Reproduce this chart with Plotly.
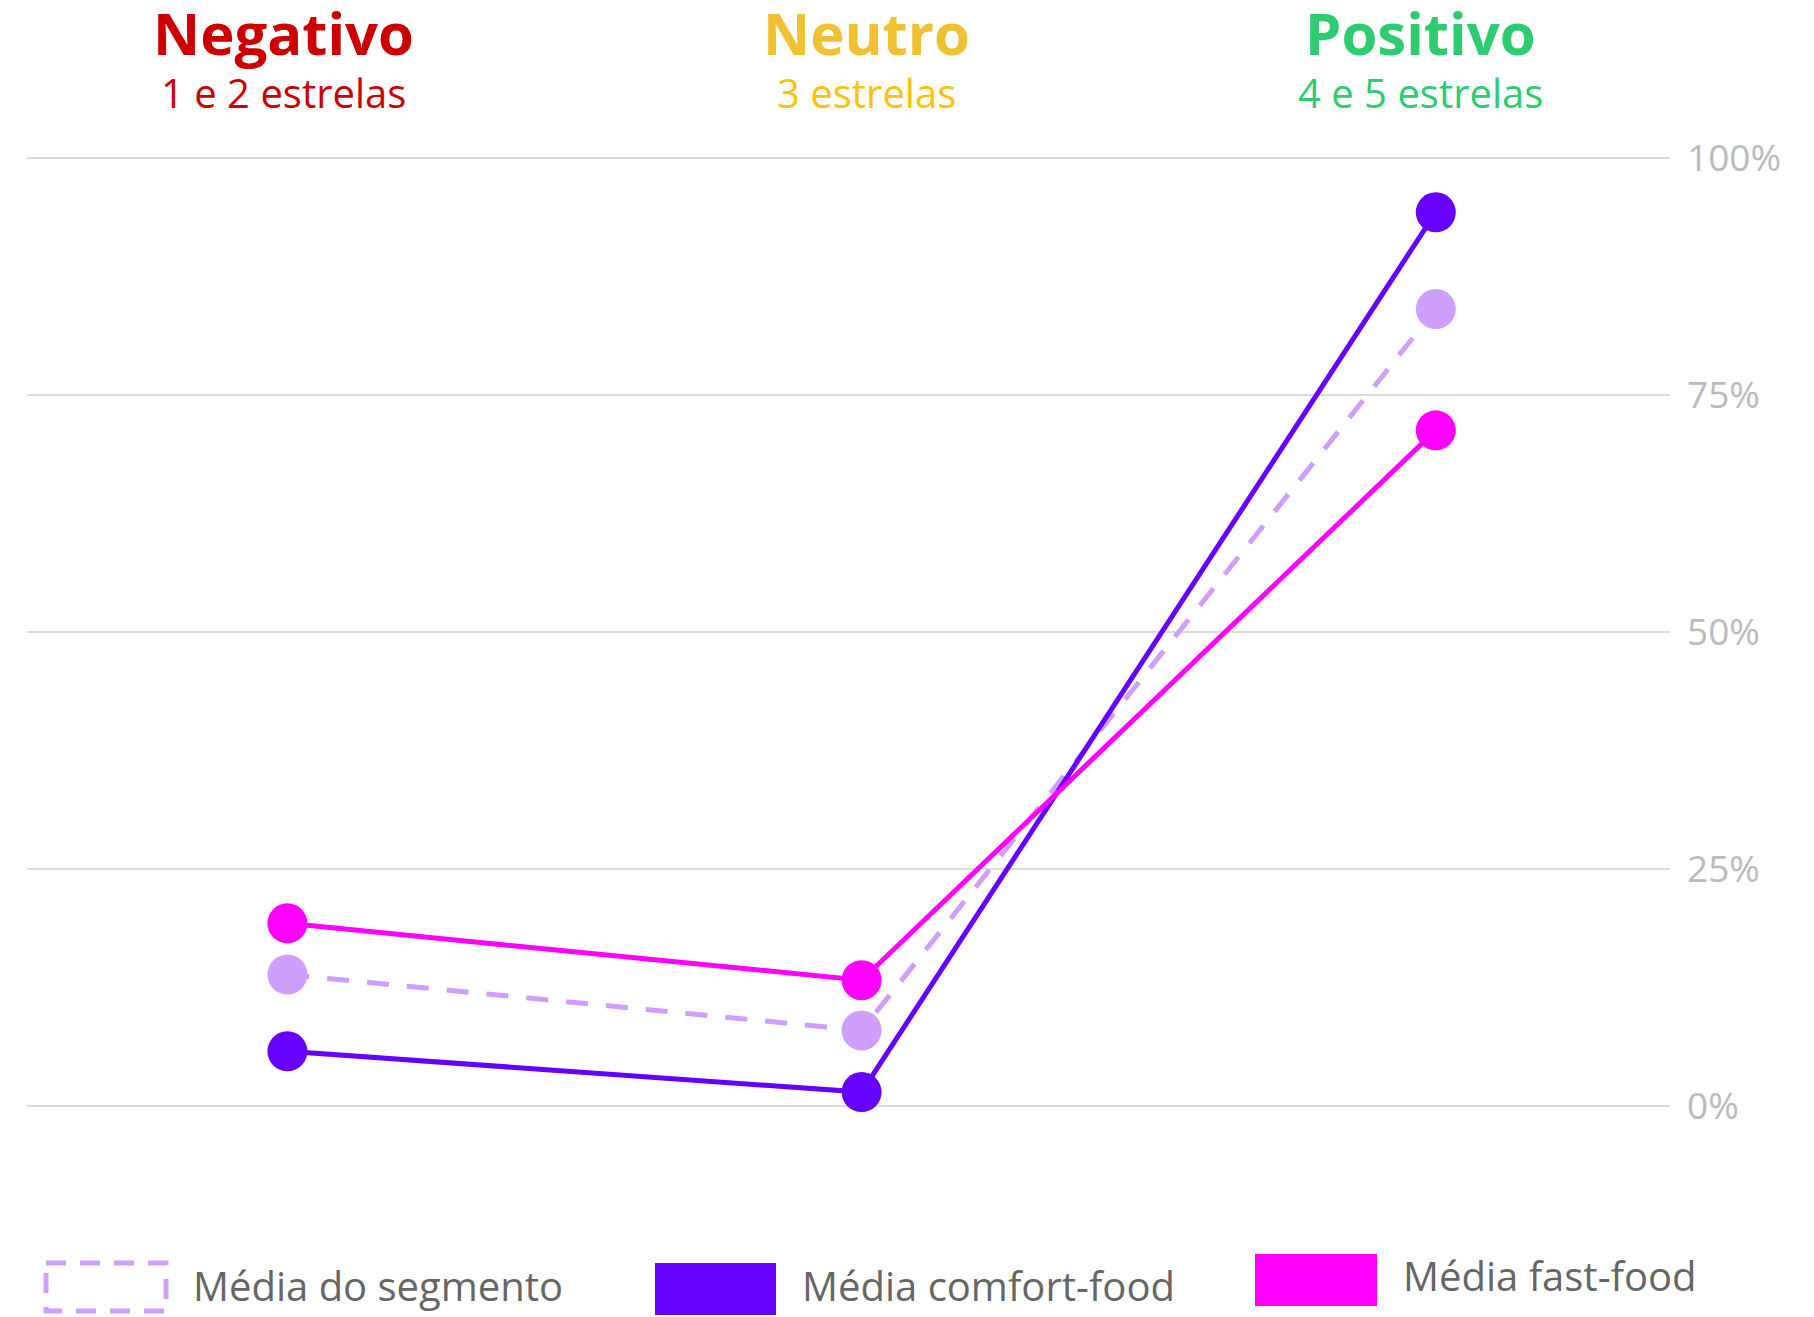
import plotly.graph_objects as go

# ---- data ----
categories = ["Negativo", "Neutro", "Positivo"]
subtitles = ["1 e 2 estrelas", "3 estrelas", "4 e 5 estrelas"]
segmento = [13.9, 8.0, 84.1]
comfort = [5.8, 1.5, 94.3]
fastfood = [19.3, 13.3, 71.3]
y_ticks = [0, 25, 50, 75, 100]
y_tick_labels = ["0%", "25%", "50%", "75%", "100%"]
legend_labels = ["Média do segmento", "Média comfort-food", "Média fast-food"]

# ---- styles ----
W, H = 1814, 1317
PL, PR = 27, 1670      # plot area in pixels (x)
PT, PB = 140, 1130     # plot area in pixels (y)
C_SEG, C_COM, C_FAST = "#d09ffd", "#6600ff", "#ff00ff"
head_colors = ["#cc0000", "#f0c232", "#2ecc71"]
sub_colors = ["#cc0000", "#fdc20a", "#2ecc71"]
FONT = "Open Sans"


def px(x):
    return (x - PL) / (PR - PL)


def py(y):
    return (PB - y) / (PB - PT)


fig = go.Figure()
series = [
    (segmento, C_SEG, "dash", legend_labels[0]),
    (comfort, C_COM, "solid", legend_labels[1]),
    (fastfood, C_FAST, "solid", legend_labels[2]),
]
for vals, col, dash, name in series:
    fig.add_trace(go.Scatter(
        x=categories, y=vals, name=name, mode="lines+markers",
        line=dict(color=col, width=5, dash="22px,18px" if dash == "dash" else "solid"),
        marker=dict(color=col, size=40, line=dict(width=0)),
        showlegend=False,
    ))

# headers
shifts = [-4, 5, -15]
for i, cat in enumerate(categories):
    fig.add_annotation(x=cat, xref="x", y=py(73), yref="paper", text=f"<b>{cat}</b>",
                       showarrow=False, xshift=shifts[i], yanchor="bottom", borderpad=0,
                       height=63, valign="bottom",
                       font=dict(family=FONT, size=58, color=head_colors[i]))
    fig.add_annotation(x=cat, xref="x", y=py(121), yref="paper", text=subtitles[i],
                       showarrow=False, xshift=shifts[i], yanchor="bottom", borderpad=0,
                       height=45, valign="bottom",
                       font=dict(family=FONT, size=40, color=sub_colors[i]))

# custom legend
legend_items = [
    (44, 168, 1261, 1313, C_SEG, True, 191, 1285),
    (655, 776, 1263, 1315, C_COM, False, 800, 1285),
    (1255, 1377, 1254, 1306, C_FAST, False, 1401, 1275),
]
for (x0, x1, y0, y1, col, dashed, tx, ty), lab in zip(legend_items, legend_labels):
    if dashed:
        fig.add_shape(type="rect", xref="paper", yref="paper",
                      x0=px(x0 + 2), x1=px(x1 - 2), y0=py(y0 + 2), y1=py(y1 - 2),
                      line=dict(color=col, width=5, dash="20px,14px"),
                      fillcolor="rgba(0,0,0,0)")
    else:
        fig.add_shape(type="rect", xref="paper", yref="paper",
                      x0=px(x0), x1=px(x1), y0=py(y0), y1=py(y1),
                      line=dict(width=0), fillcolor=col)
    fig.add_annotation(x=px(tx), y=py(ty), xref="paper", yref="paper", text=lab,
                       showarrow=False, xanchor="left", yanchor="middle",
                       font=dict(family=FONT, size=40, color="#666666"))

fig.update_layout(
    width=W, height=H,
    margin=dict(l=PL, r=W - PR, t=PT, b=H - PB, pad=0),
    paper_bgcolor="white", plot_bgcolor="white",
    showlegend=False,
    font=dict(family=FONT),
    xaxis=dict(type="category", range=[-0.4535, 2.4079], showticklabels=False,
               showgrid=False, zeroline=False, showline=False, fixedrange=True),
    yaxis=dict(range=[-2.5, 101.93], side="right", tickmode="array",
               tickvals=y_ticks, ticktext=y_tick_labels,
               showgrid=True, gridcolor="#dcdcdc", gridwidth=2, zeroline=False,
               showline=False, ticks="", ticklabelstandoff=16,
               tickfont=dict(family=FONT, size=37, color="#bbbbbb")),
)

fig.write_html("out.html")
